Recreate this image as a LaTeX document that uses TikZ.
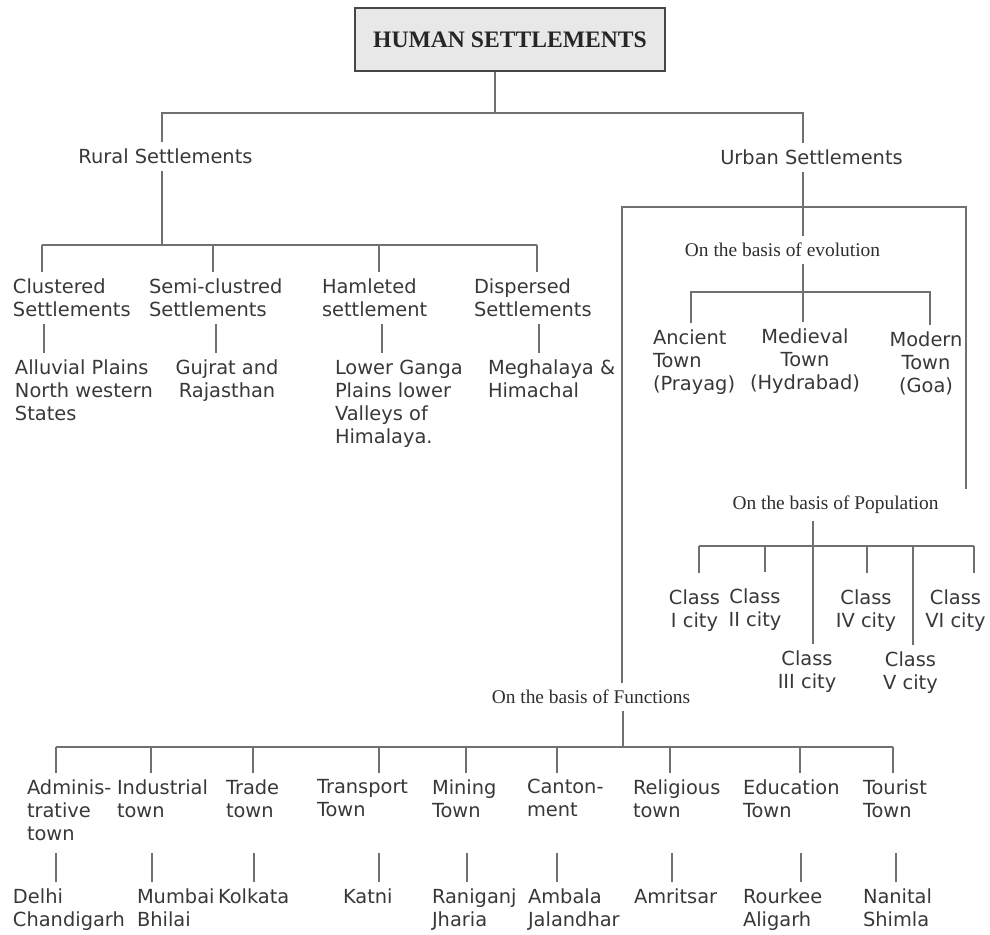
\documentclass[tikz,border=0pt]{standalone}
\usepackage{fontspec}
\setmainfont{DejaVu Sans}
\newfontfamily\basisfont{Liberation Serif}
\usepackage{tikz}

\begin{document}
\begin{tikzpicture}[x=0.025cm, y=-0.025cm,
    link/.style={draw=black!56, line width=1.3pt},
    lbl/.style={font=\fontsize{13.8}{16.3}\selectfont, text=black!78, inner sep=0pt, outer xsep=0pt, outer ysep=5pt, align=left, anchor=north west},
    clbl/.style={lbl, align=center, anchor=north},
    basis/.style={font=\basisfont\fontsize{13.8}{16}\selectfont, text=black!82, inner sep=0pt, outer sep=5pt},
    title/.style={draw=black!72, line width=1.8pt, fill=black!9, minimum width=7.75cm, minimum height=1.575cm, font=\basisfont\bfseries\fontsize{16.8}{20}\selectfont, text=black!85}]
    \useasboundingbox (0,0) rectangle (990,934);

    % Title
    \node[title] (hs) at (510,39.5) {HUMAN SETTLEMENTS};
    \coordinate (top) at (495,113);
    \coordinate (jr) at (162,113);
    \coordinate (ju) at (803,113);

    % First level
    \node[clbl] (rural) at (165.5,142) {Rural Settlements};
    \node[clbl] (urban) at (811.5,143) {Urban Settlements};
    \draw[link] (hs.south -| top) -- (top);
    \draw[link] (rural.north -| jr) -- (jr) -- (ju) -- (urban.north -| ju);

    % Rural settlements
    \coordinate (rbar) at (0,245);
    \foreach \x/\n/\t in {13/clu/{Clustered\\Settlements}, 149/semi/{Semi-clustred\\Settlements},
                          322/ham/{Hamleted\\settlement}, 474/dis/{Dispersed\\Settlements}} {
        \node[lbl] (\n) at (\x,272) {\t};
    }
    \node[lbl] (allu) at (15,353) {Alluvial Plains\\North western\\States};
    \node[clbl] (guj) at (227,353) {Gujrat and\\Rajasthan};
    \node[lbl] (lgp) at (335,353) {Lower Ganga\\Plains lower\\Valleys of\\Himalaya.};
    \node[lbl] (meg) at (488,353) {Meghalaya \&\\Himachal};

    \draw[link] (rural.south -| jr) -- (jr |- rbar);
    \draw[link] (42,0 |- rbar) -- (537,0 |- rbar);
    \foreach \xa/\xb/\n/\m in {42/44/clu/allu, 213/216/semi/guj, 379/382/ham/lgp, 537/539/dis/meg} {
        \draw[link] (\xa,0 |- rbar) -- (\xa,0 |- \n.north);
        \draw[link] (\xb,0 |- \n.south) -- (\xb,0 |- \m.north);
    }

    % Urban settlements
    \node[basis] (evo) at (782.5,250) {On the basis of evolution};
    \node[basis] (pop) at (835.5,505) {On the basis of Population};
    \node[basis] (fun) at (591,697) {On the basis of Functions};
    \coordinate (bl) at (622,207);
    \coordinate (br) at (966,207);
    \draw[link] (urban.south -| ju) -- (evo.north -| ju);
    \draw[link] (fun.north -| bl) -- (bl) -- (br) -- (pop.north -| br);

    % Evolution
    \coordinate (ebar) at (0,292);
    \node[lbl] (anc) at (653,323) {Ancient\\Town\\(Prayag)};
    \node[clbl] (med) at (805,322) {Medieval\\Town\\(Hydrabad)};
    \node[clbl] (mod) at (926,325) {Modern\\Town\\(Goa)};
    \draw[link] (evo.south -| ju) -- (med.north -| ju);
    \draw[link] (691,0 |- anc.north) -- (691,0 |- ebar) -- (930,0 |- ebar) -- (930,0 |- mod.north);

    % Population
    \coordinate (pbar) at (0,546);
    \node[clbl] (cls1) at (694.5,583) {Class\\I city};
    \node[clbl] (cls2) at (755,582) {Class\\II city};
    \node[clbl] (cls3) at (807,644) {Class\\III city};
    \node[clbl] (cls4) at (866,583) {Class\\IV city};
    \node[clbl] (cls5) at (910.5,645) {Class\\V city};
    \node[clbl] (cls6) at (955.5,583) {Class\\VI city};
    \draw[link] (813,0 |- pop.south) -- (813,0 |- cls3.north);
    \draw[link] (699,0 |- pbar) -- (974,0 |- pbar);
    \foreach \x/\n in {699/cls1, 765/cls2, 867/cls4, 974/cls6} {
        \draw[link, shorten >=7pt] (\x,0 |- pbar) -- (\x,0 |- \n.north);
    }
    \draw[link] (913,0 |- pbar) -- (913,0 |- cls5.north);

    % Functions
    \coordinate (fbar) at (0,747);
    \coordinate (frow) at (0,853);
    \foreach \x/\n/\t in {27/adm/{Adminis-\\trative\\town}, 117/ind/{Industrial\\town}, 226/trd/{Trade\\town},
                          317/tsp/{Transport\\Town}, 432/mng/{Mining\\Town}, 527/cnt/{Canton-\\ment},
                          633/rel/{Religious\\town}, 743/edu/{Education\\Town}, 863/tou/{Tourist\\Town}} {
        \node[lbl] (\n) at (\x,772.5) {\t};
    }
    \foreach \x/\n/\t in {13/del/{Delhi\\Chandigarh}, 137/mum/{Mumbai\\Bhilai}, 218/kol/{Kolkata},
                          343/kat/{Katni}, 432/ran/{Raniganj\\Jharia}, 528/amb/{Ambala\\Jalandhar},
                          634/amr/{Amritsar}, 743/rou/{Rourkee\\Aligarh}, 863/nan/{Nanital\\Shimla}} {
        \node[lbl] (\n) at (\x,881.5) {\t};
    }
    \draw[link] (623,0 |- fun.south) -- (623,0 |- fbar);
    \draw[link] (56,0 |- fbar) -- (893,0 |- fbar);
    \foreach \xa/\xb/\n/\m in {56/56/adm/del, 151/152/ind/mum, 253/254/trd/kol, 379/379/tsp/kat, 466/467/mng/ran,
                               557/557/cnt/amb, 670/672/rel/amr, 800/801/edu/rou, 893/896/tou/nan} {
        \draw[link] (\xa,0 |- fbar) -- (\xa,0 |- \n.north);
        \draw[link] (\xb,0 |- frow) -- (\xb,0 |- \m.north);
    }

\end{tikzpicture}
\end{document}
